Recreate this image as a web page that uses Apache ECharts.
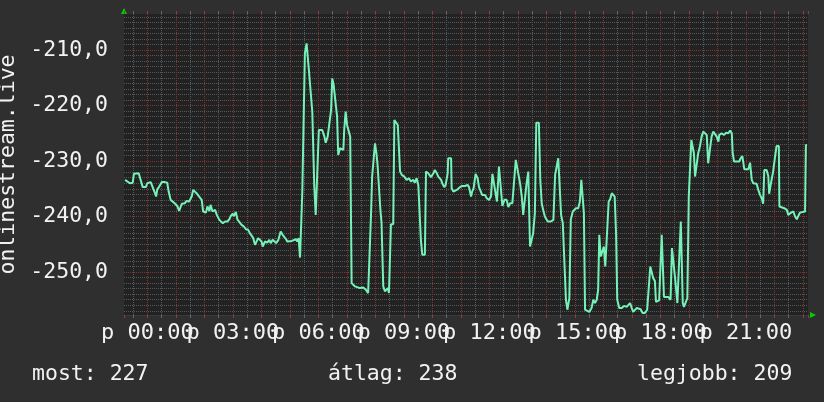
<!DOCTYPE html>
<html><head><meta charset="utf-8">
<script src="https://cdn.jsdelivr.net/npm/echarts@6/dist/echarts.min.js"></script>
<style>html,body{margin:0;padding:0;background:#2f2f2f}#c{width:824px;height:402px}</style>
</head><body><div id="c"></div><script>
// time in hours relative to midnight (negative = previous day)
const hours = [
-0.78,-0.61,-0.51,-0.47,-0.30,-0.23,-0.16,-0.05,0.00,0.12,0.19,0.25,0.31,0.35,0.42,0.51,0.62,0.70,0.75,0.82,
0.89,0.98,1.05,1.12,1.21,1.32,1.38,1.47,1.56,1.61,1.73,1.82,1.91,1.96,2.06,2.11,2.18,2.22,2.29,2.38,
2.44,2.53,2.65,2.73,2.81,2.88,2.93,3.00,3.04,3.11,3.16,3.23,3.31,3.39,3.46,3.54,3.60,3.66,3.72,3.78,
3.84,3.89,3.95,4.01,4.05,4.13,4.21,4.28,4.33,4.40,4.45,4.52,4.60,4.68,4.75,4.80,4.87,4.91,4.98,5.07,
5.12,5.22,5.26,5.31,5.36,5.42,5.44,5.49,5.53,5.59,5.63,5.67,5.74,5.79,5.86,5.91,5.98,6.02,6.09,6.14,
6.21,6.26,6.33,6.38,6.45,6.49,6.54,6.61,6.66,6.70,6.76,6.88,6.91,6.96,7.01,7.08,7.12,7.17,7.29,7.46,
7.58,7.67,7.75,7.80,7.85,7.89,7.96,7.99,8.04,8.08,8.13,8.18,8.22,8.28,8.34,8.44,8.48,8.52,8.55,8.63,
8.67,8.74,8.79,8.83,8.87,8.93,9.02,9.10,9.18,9.25,9.33,9.39,9.45,9.51,9.54,9.60,9.65,9.74,9.78,9.86,
9.95,10.04,10.09,10.15,10.21,10.31,10.35,10.42,10.47,10.54,10.56,10.66,10.68,10.74,10.80,10.89,10.97,11.05,11.15,11.24,
11.29,11.36,11.40,11.45,11.52,11.59,11.64,11.75,11.85,11.91,11.99,12.06,12.11,12.18,12.22,12.27,12.34,12.41,12.46,12.53,
12.61,12.67,12.73,12.81,12.88,12.93,13.00,13.08,13.14,13.19,13.25,13.31,13.37,13.39,13.43,13.49,13.54,13.60,13.65,13.74,
13.79,13.84,13.89,13.95,14.05,14.16,14.25,14.31,14.36,14.42,14.46,14.52,14.58,14.65,14.69,14.74,14.81,14.86,14.93,14.98,
15.04,15.12,15.18,15.23,15.30,15.32,15.36,15.42,15.51,15.59,15.65,15.71,15.77,15.82,15.86,15.91,15.98,16.02,16.07,16.14,
16.19,16.24,16.30,16.35,16.40,16.45,16.49,16.56,16.65,16.73,16.82,16.94,17.00,17.05,17.11,17.17,17.23,17.31,17.38,17.46,
17.54,17.61,17.65,17.71,17.75,17.81,17.85,17.96,18.05,18.08,18.13,18.20,18.28,18.36,18.41,18.48,18.52,18.55,18.60,18.67,
18.72,18.75,18.79,18.83,18.90,18.95,19.00,19.04,19.09,19.14,19.18,19.22,19.28,19.33,19.39,19.45,19.51,19.57,19.63,19.68,
19.74,19.80,19.86,19.92,19.98,20.04,20.07,20.15,20.24,20.31,20.39,20.45,20.51,20.54,20.59,20.77,20.82,20.88,20.95,21.09,
21.15,21.21,21.26,21.32,21.38,21.44,21.50,21.56,21.61,21.65,21.73,21.79,21.82,21.88,21.96,22.02,22.08,22.16,22.18,22.24,
22.35,22.44,22.49,22.59,22.67,22.73,22.79,22.84,22.90,23.08,23.11,23.15
];
const values = [
-233.4,-234.0,-233.9,-232.3,-232.2,-232.3,-234.7,-234.7,-234.0,-233.8,-233.9,-235.5,-236.4,-235.1,-234.6,-233.8,-233.8,-233.9,-235.5,-237.0,
-236.9,-237.7,-238.1,-239.0,-237.7,-237.6,-237.2,-237.3,-236.4,-235.2,-235.8,-236.4,-237.0,-239.1,-239.3,-238.2,-239.0,-237.9,-239.1,-238.8,
-239.7,-240.6,-241.2,-240.9,-240.9,-240.5,-239.9,-239.5,-239.9,-239.2,-240.5,-240.8,-241.5,-241.8,-242.3,-242.4,-243.0,-243.3,-243.9,-245.1,
-244.8,-243.9,-243.6,-244.5,-245.4,-244.5,-244.7,-244.2,-244.8,-244.2,-244.1,-244.8,-244.2,-242.7,-243.3,-243.5,-244.1,-244.5,-244.4,-244.4,
-244.5,-244.1,-244.5,-243.9,-247.4,-247.2,-235.5,-235.2,-210.6,-208.8,-208.8,-213.6,-213.9,-221.1,-234.6,-239.7,-239.7,-224.4,-224.1,-224.4,
-225.5,-226.7,-225.6,-225.6,-220.8,-215.1,-216.3,-216.5,-222.0,-228.9,-227.7,-228.0,-224.4,-221.1,-223.5,-223.8,-225.6,-252.0,-252.6,-252.9,
-252.8,-253.2,-253.8,-253.8,-239.7,-232.8,-232.5,-226.8,-228.6,-230.7,-230.7,-238.8,-241.2,-252.6,-253.5,-252.9,-253.8,-254.1,-241.4,-241.4,
-222.6,-222.9,-223.5,-223.5,-231.9,-232.5,-232.8,-233.4,-233.1,-233.7,-233.4,-233.9,-233.1,-234.3,-234.5,-244.2,-246.9,-246.9,-231.9,-232.2,
-232.9,-232.2,-231.6,-232.1,-232.8,-233.4,-234.0,-234.7,-234.3,-232.2,-229.5,-229.5,-234.9,-235.5,-235.2,-235.1,-234.7,-234.5,-234.5,-234.3,
-234.7,-236.4,-235.5,-234.9,-232.3,-233.1,-234.7,-236.1,-236.1,-236.7,-237.0,-236.4,-232.3,-232.3,-235.8,-237.3,-231.0,-231.0,-238.1,-237.0,
-237.0,-238.3,-237.6,-237.6,-237.3,-229.8,-230.1,-234.0,-236.4,-239.7,-239.7,-234.0,-231.9,-237.0,-245.4,-245.4,-243.0,-239.4,-223.1,-223.1,
-233.4,-237.6,-238.8,-240.0,-240.9,-240.9,-240.6,-232.5,-232.3,-229.5,-229.5,-239.7,-241.2,-241.4,-255.0,-256.8,-254.7,-240.6,-239.1,-238.8,
-238.5,-238.5,-237.3,-233.4,-233.4,-239.4,-256.8,-257.0,-257.2,-256.5,-255.0,-255.6,-255.0,-253.2,-243.3,-247.2,-247.2,-245.4,-249.0,-249.0,
-237.3,-236.9,-235.8,-235.5,-236.4,-243.3,-255.0,-256.5,-256.5,-256.1,-256.3,-255.6,-256.5,-257.2,-257.3,-256.5,-256.5,-256.7,-257.4,-257.4,
-256.8,-256.8,-249.0,-249.2,-251.1,-251.6,-255.4,-255.1,-243.3,-243.3,-254.5,-254.7,-254.5,-255.0,-245.7,-245.7,-251.1,-251.4,-255.6,-255.6,
-240.9,-240.9,-255.6,-256.3,-256.3,-254.7,-236.4,-236.4,-226.2,-226.2,-228.6,-232.8,-232.8,-228.6,-227.4,-225.6,-224.7,-224.7,-225.3,-230.4,
-230.5,-225.6,-224.7,-225.0,-225.6,-226.5,-225.3,-225.0,-225.3,-224.9,-225.0,-224.5,-225.0,-228.6,-230.1,-230.1,-229.5,-229.1,-231.5,-231.5,
-230.3,-233.4,-234.0,-233.7,-234.1,-235.2,-236.1,-236.7,-237.7,-231.6,-231.6,-232.7,-235.9,-234.1,-231.9,-229.5,-227.3,-227.3,-238.2,-238.3,
-238.5,-238.8,-239.7,-239.3,-239.1,-240.0,-240.5,-240.3,-239.3,-239.1,-227.1,-227.1
];
const timeRange = [-0.8167, 23.1833];      // 24 hour window
const valueRange = [-257.75, -203.5];
const yAxisTitle = 'onlinestream.live';
const labelPrefix = 'p';
const labelEveryHours = 3;
const statNames = ['most', 'átlag', 'legjobb'];
const statValues = [227, 238, 209];

const FONT = 'DejaVu Sans Mono';
const TXT = '#f2f2f2';
const MAJOR = '#7c3434';
const MINOR = '#575757';
const FS = 21.5;
const FSX = 22;

function pad(n){ return (n < 10 ? '0' : '') + n; }
function xLabel(v){
  const r = Math.round(v);
  if (Math.abs(v - r) > 1e-6) return '';
  const h = ((r % 24) + 24) % 24;
  if (h % labelEveryHours !== 0) return '';
  return labelPrefix + ' ' + pad(h) + ':00';
}

const chart = echarts.init(document.getElementById('c'), null, {renderer: 'canvas'});
const xBase = {
  type: 'value', min: timeRange[0], max: timeRange[1],
  splitNumber: 24, minInterval: 1, maxInterval: 1
};
const statFont = FS + 'px "' + FONT + '"';
chart.setOption({
  backgroundColor: '#2f2f2f',
  animation: false,
  grid: {left: 124, right: 16, top: 14, bottom: 87, show: true, backgroundColor: '#222222', borderWidth: 0,
         containLabel: false, outerBoundsMode: 'none'},
  xAxis: [
    Object.assign({}, xBase, {
      position: 'bottom',
      axisLine: {show: true, onZero: false, lineStyle: {color: '#3a3a3a', width: 1}},
      axisTick: {show: true, length: 3, lineStyle: {color: '#8a4040'}},
      minorTick: {show: true, splitNumber: 2, length: 3, lineStyle: {color: '#666'}},
      splitLine: {show: true, showMinLine: false, showMaxLine: false, lineStyle: {color: MAJOR, type: [1, 1], width: 1}},
      minorSplitLine: {show: true, lineStyle: {color: MINOR, type: [1, 1], width: 1}},
      axisLabel: {show: true, formatter: xLabel, color: TXT, fontFamily: FONT, fontSize: FSX, margin: 7,
                  showMinLabel: false, showMaxLabel: false, hideOverlap: false}
    }),
    Object.assign({}, xBase, {
      position: 'top',
      axisLine: {show: false},
      axisTick: {show: true, length: 3, lineStyle: {color: '#8a4040'}},
      minorTick: {show: true, splitNumber: 2, length: 3, lineStyle: {color: '#666'}},
      splitLine: {show: false},
      axisLabel: {show: false}
    })
  ],
  yAxis: {
    type: 'value', min: valueRange[0], max: valueRange[1],
    splitNumber: 5, minInterval: 10, maxInterval: 10,
    name: yAxisTitle, nameLocation: 'middle', nameGap: 98,
    nameTextStyle: {color: TXT, fontFamily: FONT, fontSize: FS},
    axisLine: {show: false},
    axisTick: {show: false},
    minorTick: {show: false, splitNumber: 10},
    splitLine: {show: true, showMinLine: false, showMaxLine: false, lineStyle: {color: MAJOR, type: [1, 1], width: 1}},
    minorSplitLine: {show: true, lineStyle: {color: MINOR, type: [1, 1], width: 1}},
    axisLabel: {color: TXT, fontFamily: FONT, fontSize: FS, margin: 16, padding: [4, 0, 0, 0],
                showMinLabel: false, showMaxLabel: false,
                formatter: v => v.toFixed(1).replace('.', ',')}
  },
  series: [{
    type: 'line', xAxisIndex: 0,
    data: hours.map((h, i) => [h, values[i]]),
    showSymbol: false, symbol: 'none',
    lineStyle: {color: '#74f2b8', width: 2},
    z: 5
  }],
  graphic: [
    {type: 'polygon', shape: {points: [[121, 14], [127, 14], [124, 8]]}, style: {fill: '#00d000'}, silent: true},
    {type: 'polygon', shape: {points: [[810, 312], [810, 318], [816, 315]]}, style: {fill: '#00d000'}, silent: true},
    {type: 'text', left: 32, top: 363, style: {text: statNames[0] + ': ' + statValues[0], fill: TXT, font: statFont}},
    {type: 'text', left: 328, top: 363, style: {text: statNames[1] + ': ' + statValues[1], fill: TXT, font: statFont}},
    {type: 'text', left: 637, top: 363, style: {text: statNames[2] + ': ' + statValues[2], fill: TXT, font: statFont}}
  ]
});
</script></body></html>
